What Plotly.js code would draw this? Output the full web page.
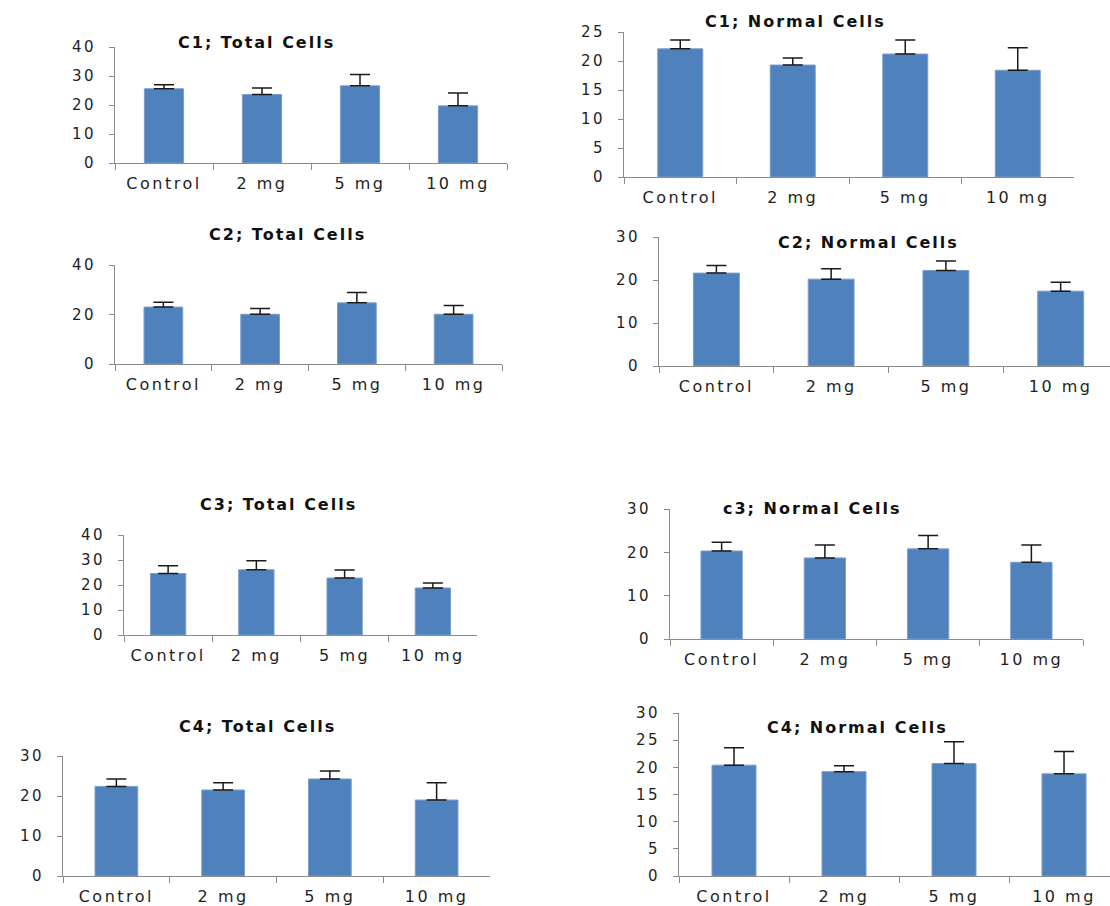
<!DOCTYPE html>
<html>
<head>
<meta charset="utf-8">
<script src="https://cdn.plot.ly/plotly-3.0.1.min.js"></script>
<style>
  html, body { margin: 0; padding: 0; background: #fff; }
  #chart { width: 1110px; height: 906px; }
  g[class^="x"][class$="tick"] > text { letter-spacing: 2.5px; }
  g[class^="y"][class$="tick"] > text { letter-spacing: 2.5px; }
  .annotation-text { letter-spacing: 2px; }
</style>
</head>
<body>
<div id="chart"></div>
<script>
// ---------- DATA ----------
const categories = ['Control', '2 mg', '5 mg', '10 mg'];

const titles = [
  'C1; Total Cells', 'C1; Normal Cells',
  'C2; Total Cells', 'C2; Normal Cells',
  'C3; Total Cells', 'c3; Normal Cells',
  'C4; Total Cells', 'C4; Normal Cells'
];

const c1Total     = [25.6, 23.6, 26.6, 19.7];
const c1TotalErr  = [1.4, 2.3, 3.9, 4.4];
const c1Normal    = [22.1, 19.3, 21.2, 18.4];
const c1NormalErr = [1.5, 1.2, 2.4, 3.9];

const c2Total     = [23.0, 20.1, 24.7, 20.1];
const c2TotalErr  = [2.0, 2.3, 4.2, 3.5];
const c2Normal    = [21.6, 20.2, 22.2, 17.4];
const c2NormalErr = [1.8, 2.4, 2.2, 2.1];

const c3Total     = [24.6, 26.1, 22.8, 18.8];
const c3TotalErr  = [3.1, 3.6, 3.2, 2.0];
const c3Normal    = [20.3, 18.7, 20.8, 17.7];
const c3NormalErr = [2.0, 3.0, 3.1, 4.0];

const c4Total     = [22.4, 21.5, 24.25, 19.0];
const c4TotalErr  = [1.85, 1.8, 2.0, 4.3];
const c4Normal    = [20.4, 19.2, 20.7, 18.8];
const c4NormalErr = [3.2, 1.1, 4.0, 4.1];

const seriesMeans = [c1Total, c1Normal, c2Total, c2Normal, c3Total, c3Normal, c4Total, c4Normal];
const seriesErrs  = [c1TotalErr, c1NormalErr, c2TotalErr, c2NormalErr, c3TotalErr, c3NormalErr, c4TotalErr, c4NormalErr];

// ---------- LAYOUT (pixel boxes) ----------
const W = 1110, H = 906;
// box: [left, right, top, bottom] px; xEnd: category range end; yMax, dt; tt: title centre px
const panels = [
  {box:[115, 507, 47, 163],  xEnd:3.5,   yMax:40, dt:10, tt:[256, 42]},
  {box:[624, 1074, 32, 177], xEnd:3.5,   yMax:25, dt:5,  tt:[795, 21]},
  {box:[115, 502, 265, 364], xEnd:3.5,   yMax:40, dt:20, tt:[287, 234]},
  {box:[659, 1110, 237, 366],xEnd:3.43,  yMax:30, dt:10, tt:[868, 243]},
  {box:[124, 477, 535, 635], xEnd:3.5,   yMax:40, dt:10, tt:[278, 505]},
  {box:[670, 1083, 509, 639],xEnd:3.5,   yMax:30, dt:10, tt:[812, 508]},
  {box:[63, 490, 756, 876],  xEnd:3.5,   yMax:30, dt:10, tt:[257, 726]},
  {box:[679, 1110, 713, 876],xEnd:3.418, yMax:30, dt:5,  tt:[857, 727]}
];

const barColor = '#4F81BD';
const axisColor = '#8c8c8c';
const textColor = '#1e1e1e';
const fontFam = 'DejaVu Sans, Verdana, sans-serif';

const traces = [];
const layout = {
  width: W, height: H,
  margin: {l: 0, r: 0, t: 0, b: 0},
  paper_bgcolor: '#ffffff',
  plot_bgcolor: 'rgba(0,0,0,0)',
  showlegend: false,
  bargap: 0.6,
  font: {family: fontFam, color: textColor, size: 14},
  annotations: []
};

panels.forEach((p, i) => {
  const n = i + 1;
  const xk = n === 1 ? 'xaxis' : 'xaxis' + n;
  const yk = n === 1 ? 'yaxis' : 'yaxis' + n;
  const xr = n === 1 ? 'x' : 'x' + n;
  const yr = n === 1 ? 'y' : 'y' + n;
  const [l, r, t, b] = p.box;

  traces.push({
    type: 'bar',
    x: categories,
    y: seriesMeans[i],
    xaxis: xr, yaxis: yr,
    marker: {color: barColor, line: {color: '#7b9dcc', width: 1}},
    error_y: {
      type: 'data', symmetric: false,
      array: seriesErrs[i], arrayminus: [0, 0, 0, 0],
      color: '#1a1a1a', thickness: 1.5, width: 10
    },
    hoverinfo: 'skip'
  });

  layout[xk] = {
    domain: [l / W, r / W],
    anchor: yr,
    type: 'category',
    range: [-0.5, p.xEnd],
    showline: true, linecolor: axisColor, linewidth: 1,
    ticks: 'outside', tickson: 'boundaries', ticklen: 6, tickcolor: axisColor,
    showgrid: false, zeroline: false,
    tickfont: {family: fontFam, size: 16, color: textColor},
    ticklabelstandoff: 6,
    fixedrange: true
  };
  layout[yk] = {
    domain: [1 - b / H, 1 - t / H],
    anchor: xr,
    range: [0, p.yMax],
    dtick: p.dt, tick0: 0,
    showline: true, linecolor: axisColor, linewidth: 1,
    ticks: 'outside', ticklen: 5, tickcolor: axisColor,
    showgrid: false, zeroline: false,
    tickfont: {family: fontFam, size: 15, color: textColor},
    ticklabelstandoff: 10,
    fixedrange: true
  };

  layout.annotations.push({
    text: '<b>' + titles[i] + '</b>',
    xref: 'paper', yref: 'paper',
    x: p.tt[0] / W, y: 1 - p.tt[1] / H,
    xanchor: 'center', yanchor: 'middle',
    showarrow: false,
    font: {family: fontFam, size: 16, color: '#111'}
  });
});

Plotly.newPlot('chart', traces, layout, {displayModeBar: false, staticPlot: true});
</script>
</body>
</html>
